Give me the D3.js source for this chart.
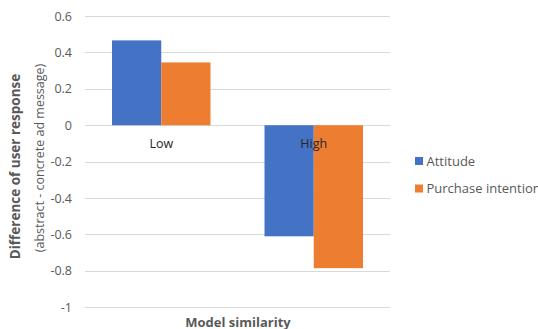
<!DOCTYPE html>
<html><head><meta charset="utf-8">
<script src="https://cdn.jsdelivr.net/npm/d3@7"></script>
<style>body{margin:0;background:#fff}svg{display:block}text{font-family:'Open Sans',sans-serif}</style>
</head><body>
<script>
const categories = ["Low", "High"];
const seriesNames = ["Attitude", "Purchase intention"];
const attitude = [0.466, -0.61];
const purchase = [0.345, -0.785];
const yTicks = [0.6, 0.4, 0.2, 0, -0.2, -0.4, -0.6, -0.8, -1];
const colors = ["#4472C4", "#ED7D31"];

const W = 538, H = 329;
const svg = d3.select("body").append("svg").attr("width", W).attr("height", H);
const x = d3.scaleBand().domain(categories).range([85, 390]).paddingInner(0).paddingOuter(0);
const x1 = d3.scaleBand().domain(seriesNames).range([27, x.bandwidth() - 27]);
const y = d3.scaleLinear().domain([-1, 0.6]).range([307.3, 16]);

svg.append("g").selectAll("line").data(yTicks).join("line")
  .attr("x1", 85).attr("x2", 390)
  .attr("y1", d => Math.round(y(d)) + 0.5).attr("y2", d => Math.round(y(d)) + 0.5)
  .attr("stroke", "#d9d9d9").attr("stroke-width", 1);

const yAxis = d3.axisLeft(y).tickValues(yTicks).tickSize(0).tickPadding(0)
  .tickFormat(d => String(d));
const ya = svg.append("g").attr("transform", "translate(72,0)").call(yAxis);
ya.select(".domain").remove();
ya.selectAll("text").attr("fill", "#595959").style("font-size", "12.5px").style("font-family", "'Open Sans',sans-serif");

const data = categories.map((c, i) => ({c, vals: [attitude[i], purchase[i]]}));
const g = svg.append("g");
data.forEach(d => {
  d.vals.forEach((v, j) => {
    g.append("rect")
      .attr("x", x(d.c) + x1(seriesNames[j]))
      .attr("width", x1.bandwidth())
      .attr("y", y(Math.max(0, v)))
      .attr("height", Math.abs(y(v) - y(0)))
      .attr("fill", colors[j]);
  });
});

svg.append("g").selectAll("text").data(categories).join("text")
  .attr("x", d => x(d) + x.bandwidth() / 2).attr("y", 148)
  .attr("text-anchor", "middle").attr("fill", "#262626")
  .style("font-size", "12.5px").text(d => d);

svg.append("text").attr("x", 238).attr("y", 326.5).attr("text-anchor", "middle")
  .attr("fill", "#595959").style("font-size", "13px").style("font-weight", "bold").text("Model similarity");

svg.append("text").attr("transform", "translate(20,166.5) rotate(-90)").attr("text-anchor", "middle")
  .attr("fill", "#595959").style("font-size", "13.5px").style("font-weight", "bold").text("Difference of user response");
svg.append("text").attr("transform", "translate(44,158) rotate(-90)").attr("text-anchor", "middle")
  .attr("fill", "#595959").style("font-size", "12.5px").text("(abstract - concrete ad message)");

const lg = svg.append("g").selectAll("g").data(seriesNames).join("g")
  .attr("transform", (d, i) => `translate(415,${157 + i * 27.5})`);
lg.append("rect").attr("width", 8).attr("height", 8).attr("fill", (d, i) => colors[i]);
lg.append("text").attr("x", 11.5).attr("y", 8.5).attr("fill", "#595959").style("font-size", "13px").text(d => d);
</script>
</body></html>
